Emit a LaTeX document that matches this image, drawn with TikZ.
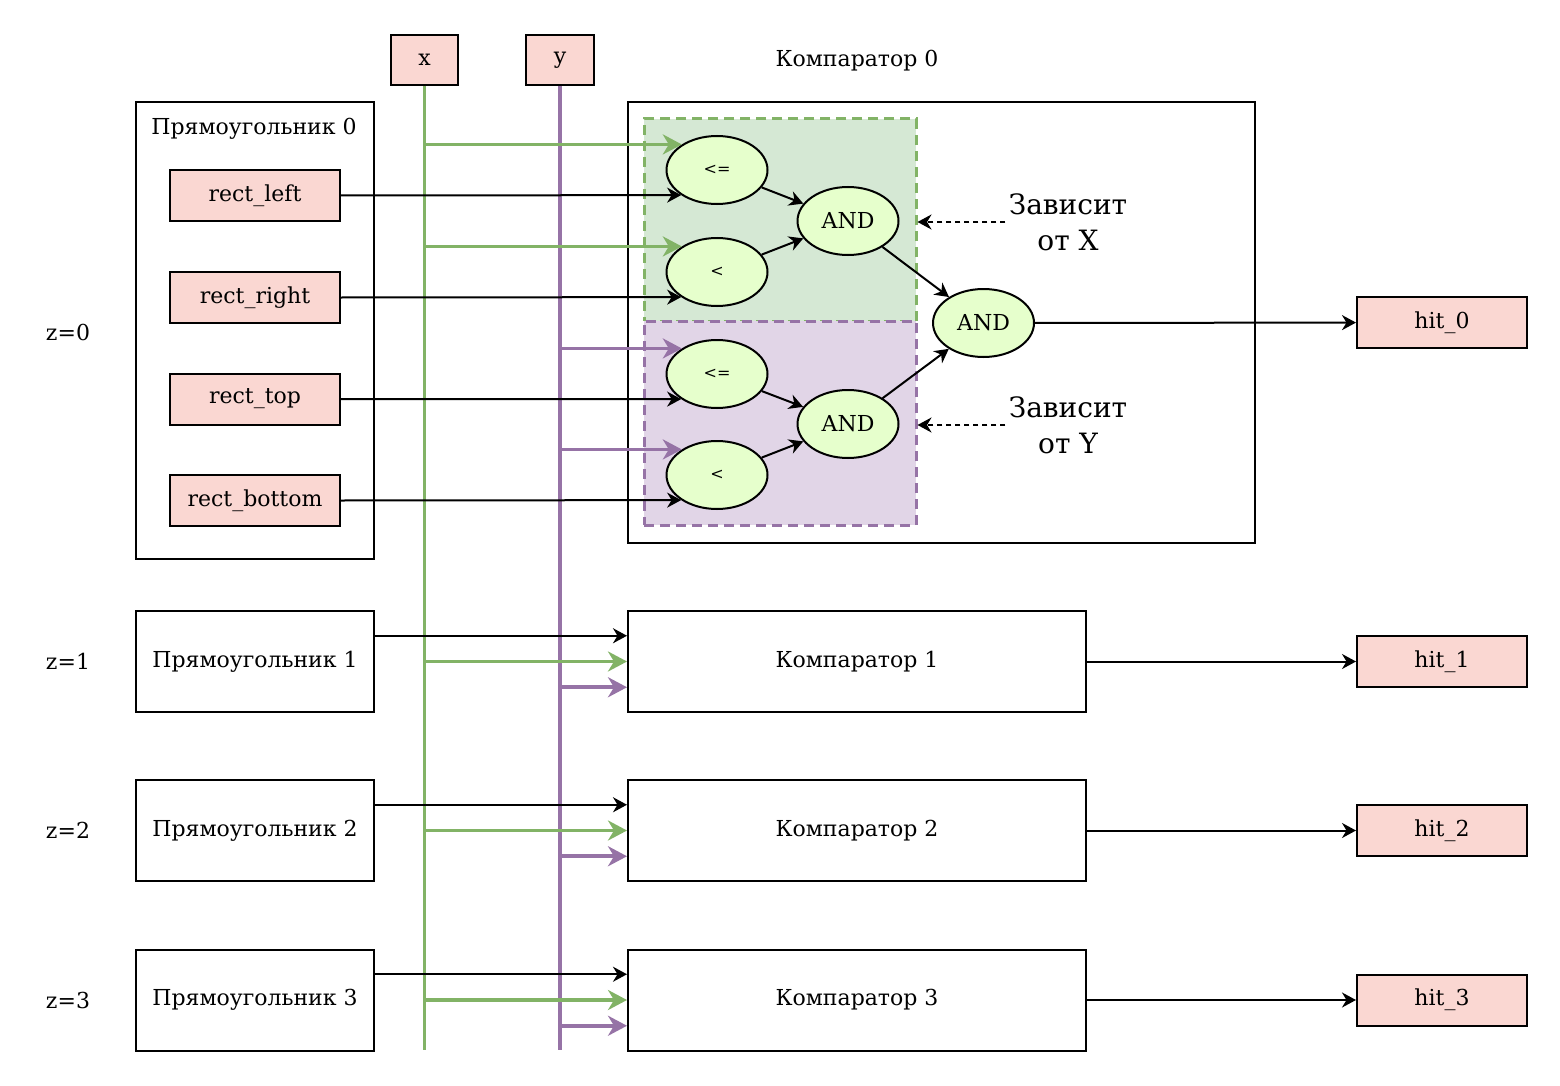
\documentclass[tikz,border=0pt]{standalone}
\usepackage{fontspec}
\setmainfont{DejaVu Serif}
\usetikzlibrary{arrows.meta, calc, shapes.geometric, positioning}
\definecolor{pinkfill}{HTML}{FAD7D2}
\definecolor{leaf}{HTML}{E6FFCC}
\definecolor{xgreen}{HTML}{82B366}
\definecolor{xgreenbg}{HTML}{D5E8D4}
\definecolor{ypurple}{HTML}{9673A6}
\definecolor{ypurplebg}{HTML}{E1D5E7}

\tikzset{
  reg/.style={draw, line width=2pt, fill=pinkfill, minimum width=170pt, minimum height=51pt, inner sep=0pt},
  blk/.style={draw, line width=2pt, inner sep=0pt},
  cmp/.style={ellipse, draw, line width=2pt, fill=leaf, minimum width=101pt, minimum height=68pt, inner sep=0pt},
  wire/.style={line width=2pt, -{Stealth[length=14pt, width=15pt, inset=4.5pt]}},
  gwire/.style={xgreen, line width=3.6pt, -{Stealth[length=19pt, width=20pt, inset=6pt]}},
  pwire/.style={ypurple, line width=3.6pt, -{Stealth[length=19pt, width=20pt, inset=6pt]}},
  dwire/.style={line width=2pt, dash pattern=on 5pt off 4pt, -{Stealth[length=14pt, width=15pt, inset=4.5pt]}},
  zone/.style={line width=3pt, dash pattern=on 10pt off 6pt, minimum width=272pt, inner sep=0pt},
}

\begin{document}
\begin{tikzpicture}[x=1pt, y=-1pt, font=\fontsize{22}{26}\selectfont]
  \useasboundingbox (0,0) rectangle (1560,1086);

  % Inputs
  \node[reg, minimum width=67pt, minimum height=50pt] (xb) at (424.5,60) {x};
  \node[reg, minimum width=68pt, minimum height=50pt] (yb) at (560,60) {y};
  \coordinate (bot) at (0,1050);
  \draw[xgreen, line width=3.6pt] (xb.south) -- (xb.south |- bot);
  \draw[ypurple, line width=3.6pt] (yb.south) -- (yb.south |- bot);

  % Rectangle 0
  \node[blk, minimum width=238pt, minimum height=457pt] (r0) at (255,330.5) {};
  \node (r0t) at (254,129) {Прямоугольник 0};
  \node[reg] (rl) at (255,195.5) {rect\_left};
  \node[reg] (rr) at (255,297.5) {rect\_right};
  \node[reg] (rt) at (255,399) {rect\_top};
  \node[reg] (rb) at (255,500.5) {rect\_bottom};

  % Comparator 0
  \node (c0t) at (857,61) {Компаратор 0};
  \node[blk, minimum width=627pt, minimum height=441pt] (c0) at (941.5,322.5) {};
  \node[zone, draw=xgreen, fill=xgreenbg, minimum height=202pt] (gx) at (780,220) {};
  \node[zone, draw=ypurple, fill=ypurplebg, minimum height=204pt] (py) at (780,423) {};

  \node[cmp, font=\fontsize{16}{19}\selectfont] (le1) at (717,170) {<=};
  \node[cmp, font=\fontsize{16}{19}\selectfont] (lt1) at (717,272) {<};
  \node[cmp, font=\fontsize{16}{19}\selectfont] (le2) at (717,374) {<=};
  \node[cmp, font=\fontsize{16}{19}\selectfont] (lt2) at (717,475) {<};
  \node[cmp] (and1) at (848,221) {AND};
  \node[cmp] (and2) at (848,424) {AND};
  \node[cmp] (andf) at (983.5,323) {AND};

  \draw[gwire] (xb.south |- le1.144) -- (le1.144);
  \draw[gwire] (xb.south |- lt1.144) -- (lt1.144);
  \draw[pwire] (yb.south |- le2.144) -- (le2.144);
  \draw[pwire] (yb.south |- lt2.144) -- (lt2.144);
  \draw[wire] (rl.east) -- (le1.215);
  \draw[wire] (rr.east) -- (lt1.215);
  \draw[wire] (rt.east) -- (le2.215);
  \draw[wire] (rb.east) -- (lt2.215);

  \draw[wire] (le1) -- (and1);
  \draw[wire] (lt1) -- (and1);
  \draw[wire] (le2) -- (and2);
  \draw[wire] (lt2) -- (and2);
  \draw[wire] (and1) -- (andf);
  \draw[wire] (and2) -- (andf);

  \node[align=center, font=\fontsize{28}{36}\selectfont] (depx) at (1068,222) {Зависит\\от X};
  \node[align=center, font=\fontsize{28}{36}\selectfont] (depy) at (1068,425) {Зависит\\от Y};
  \draw[dwire] (depx.west) -- (gx.east |- depx.west);
  \draw[dwire] (depy.west) -- (py.east |- depy.west);

  \node[reg] (h0) at (1442,322.5) {hit\_0};
  \draw[wire] (andf) -- (h0);
  \node (z0) at (68,332) {z=0};

  % Rectangles and comparators 1..3
  \foreach \i/\y in {1/661.5, 2/830.5, 3/1000} {
    \node (z\i) at (68,\y) {z=\i};
    \node[blk, minimum width=238pt, minimum height=101pt] (r\i) at (255,\y) {Прямоугольник \i};
    \node[blk, minimum width=458pt, minimum height=101pt] (c\i) at (857,\y) {Компаратор \i};
    \node[reg] (h\i) at (1442,\y) {hit\_\i};
    \coordinate (ra\i) at ($(r\i.north east)!.25!(r\i.south east)$);
    \coordinate (ca\i) at ($(c\i.north west)!.25!(c\i.south west)$);
    \coordinate (cp\i) at ($(c\i.north west)!.75!(c\i.south west)$);
    \draw[wire] (ra\i) -- (ca\i);
    \draw[gwire] (xb.south |- c\i.west) -- (c\i.west);
    \draw[pwire] (yb.south |- cp\i) -- (cp\i);
    \draw[wire] (c\i) -- (h\i);
  }
\end{tikzpicture}
\end{document}
